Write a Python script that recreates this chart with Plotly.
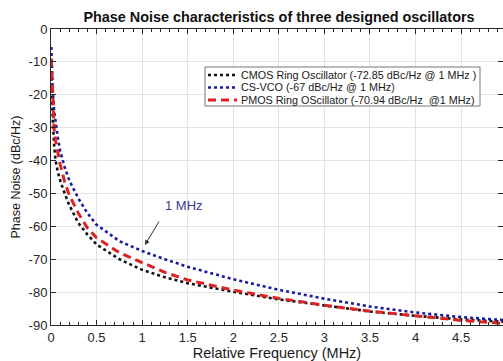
import plotly.graph_objects as go

# ---- data ----
freq_mhz = [0.003, 0.01, 0.02, 0.035, 0.05, 0.075, 0.1, 0.15, 0.2, 0.3, 0.4, 0.5,
            0.75, 1.0, 1.25, 1.5, 2.0, 2.5, 3.0, 3.5, 4.0, 4.5, 4.96]
cmos_ring = [-13, -20, -28, -35.5, -40, -43.5, -46, -50, -53.5, -59, -62.5, -65.5,
             -70, -73.2, -75.5, -77.3, -79.9, -82.2, -84.1, -85.9, -87.2, -88.3, -89]
cs_vco = [-5.5, -12, -19, -25, -28.5, -33, -37, -42, -46, -51.5, -56, -59.5,
          -64.5, -67.5, -70, -72.3, -76.1, -79.3, -82, -84.4, -86.2, -87.6, -88.5]
pmos_ring = [-9, -15, -22, -30.5, -34, -38, -41, -46.5, -50.5, -56, -60.5, -63.5,
             -68, -71, -74, -76.3, -79.4, -81.9, -84, -85.8, -87.3, -88.6, -89.5]
series_names = ["CMOS Ring Oscillator (-72.85 dBc/Hz @ 1 MHz )",
                "CS-VCO (-67 dBc/Hz @ 1 MHz)",
                "PMOS Ring OScillator (-70.94 dBc/Hz  @1 MHz)"]
x_ticks = [0, 0.5, 1, 1.5, 2, 2.5, 3, 3.5, 4, 4.5]
y_ticks = [0, -10, -20, -30, -40, -50, -60, -70, -80, -90]

W, H = 503, 361
ML, MR, MT, MB = 51, 0, 29, 36

colors = ["#111111", "#1a1aa0", "#dd2222"]
dashes = ["dot", "dot", "8px,5px"]
widths = [2.6, 2.6, 3]
series = [cmos_ring, cs_vco, pmos_ring]

fig = go.Figure()
for ys, nm, c, d, w in zip(series, series_names, colors, dashes, widths):
    fig.add_trace(go.Scatter(x=freq_mhz, y=ys, mode="lines", name=nm,
                             line=dict(color=c, dash=d, width=w), showlegend=False))

pw = W - ML - MR
ph = H - MT - MB
def px(p):
    return (p - ML) / pw
def py(p):
    return (H - MB - p) / ph

axis_common = dict(showline=True, linecolor="#262626", linewidth=1, mirror="ticks",
                   ticks="inside", ticklen=5, tickcolor="#262626",
                   showgrid=True, gridcolor="#e3e3e3", gridwidth=1, zeroline=False,
                   tickfont=dict(family="Liberation Sans, Arial", size=13, color="#262626"))

fig.update_xaxes(range=[0, 4.96], tickvals=x_ticks,
                 ticktext=[f"{v:g}" for v in x_ticks],
                 minor=dict(ticks="inside", ticklen=3, dtick=0.1, tickcolor="#262626", showgrid=False),
                 title=dict(text="Relative Frequency (MHz)", standoff=3,
                            font=dict(family="Liberation Sans, Arial", size=14.5, color="#1a1a1a")),
                 **axis_common)
fig.update_yaxes(range=[-90, 0], tickvals=y_ticks,
                 ticktext=[f"{v:g}" for v in y_ticks],
                 title=dict(text="Phase Noise (dBc/Hz)", standoff=5,
                            font=dict(family="Liberation Sans, Arial", size=12.5, color="#1a1a1a")),
                 **axis_common)

# legend drawn as a box
shapes = [dict(type="rect", xref="paper", yref="paper",
               x0=px(205), x1=px(480), y0=py(106), y1=py(67),
               line=dict(color="#777777", width=1), fillcolor="white", layer="above")]
annotations = []
row_y = [75, 87.5, 100]
for nm, c, d, w, ry in zip(series_names, colors, dashes, widths, row_y):
    shapes.append(dict(type="line", xref="paper", yref="paper",
                       x0=px(208), x1=px(237), y0=py(ry), y1=py(ry),
                       line=dict(color=c, dash=d, width=w), layer="above"))
    annotations.append(dict(xref="paper", yref="paper", x=px(239), y=py(ry),
                            xanchor="left", yanchor="middle", showarrow=False,
                            text=nm, font=dict(family="Liberation Sans, Arial", size=10.8,
                                               color="#1a1a1a")))

annotations.append(dict(x=1.03, y=-65.7, xref="x", yref="y", ax=15, ay=-25,
                        showarrow=True, arrowhead=2, arrowsize=1, arrowwidth=1,
                        arrowcolor="#333333", text=""))
annotations.append(dict(x=1.46, y=-53.6, xref="x", yref="y", showarrow=False,
                        text="1 MHz", font=dict(family="Liberation Sans, Arial", size=13,
                                                color="#3a3a9a")))

fig.update_layout(
    width=W, height=H,
    margin=dict(l=ML, r=MR, t=MT, b=MB),
    paper_bgcolor="white", plot_bgcolor="white",
    title=dict(text="<b>Phase Noise characteristics of three designed oscillators</b>",
               xref="container", x=279 / W, xanchor="center",
               yref="container", y=1 - 17 / H, yanchor="middle",
               font=dict(family="Liberation Sans, Arial", size=14.4, color="#111111")),
    shapes=shapes, annotations=annotations, showlegend=False,
)

fig.write_html("out.html")
